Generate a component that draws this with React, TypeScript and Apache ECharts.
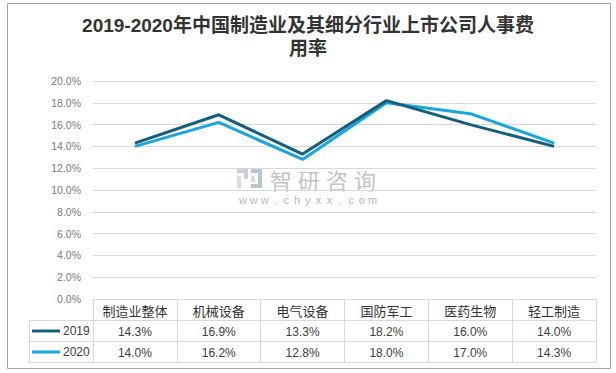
import React, { useEffect, useRef } from "react";
import * as echarts from "echarts";

const categories = ["制造业整体", "机械设备", "电气设备", "国防军工", "医药生物", "轻工制造"];
const seriesNames = ["2019", "2020"];
const values2019 = [14.3, 16.9, 13.3, 18.2, 16.0, 14.0];
const values2020 = [14.0, 16.2, 12.8, 18.0, 17.0, 14.3];
const titleText = "2019-2020年中国制造业及其细分行业上市公司人事费\n用率";
const watermarkChars = ["智", "研", "咨", "询"];
const watermarkUrl = "www.chyxx.com".split("");

const colors = ["#155F7E", "#17A6DF"];
const gridColor = "#d9d9d9";
const fmt = (v: number) => v.toFixed(1) + "%";

export default function App() {
  const ref = useRef<HTMLDivElement>(null);
  useEffect(() => {
    if (!ref.current) return;
    document.body.style.margin = "0";
    const chart = echarts.init(ref.current, null, { renderer: "svg" });
    const tableText = { fontSize: 12, color: "#404040", fontFamily: "Liberation Sans, Noto Sans CJK SC" };
    const valueAxis = (data: number[], offset: number) => ({
      type: "category",
      data: data.map(fmt),
      position: "bottom",
      offset,
      boundaryGap: true,
      axisLine: { show: false },
      axisTick: { show: false },
      splitLine: { show: false },
      axisLabel: { interval: 0, margin: 6, ...tableText },
    });
    const graphics: any[] = [
      {
        type: "rect",
        shape: { x: 7.5, y: 3.5, width: 603, height: 365 },
        style: { fill: "none", stroke: "#a6a6a6", lineWidth: 1 },
        silent: true,
      },
      ...[320.5, 341.5, 362.5].map((y) => ({
        type: "line",
        shape: { x1: 29, y1: y, x2: 596.5, y2: y },
        style: { stroke: gridColor, lineWidth: 1 },
        silent: true,
      })),
      {
        type: "line",
        shape: { x1: 29.5, y1: 320, x2: 29.5, y2: 363 },
        style: { stroke: gridColor, lineWidth: 1 },
        silent: true,
      },
      // watermark logo
      {
        type: "group",
        silent: true,
        children: [
          { type: "rect", shape: { x: 237, y: 169, width: 11, height: 4 }, style: { fill: "#c7d0dc" } },
          { type: "rect", shape: { x: 244, y: 169, width: 4, height: 10 }, style: { fill: "#c7d0dc" } },
          { type: "rect", shape: { x: 237, y: 176, width: 4, height: 12 }, style: { fill: "#d6dde6" } },
          { type: "rect", shape: { x: 251, y: 169, width: 11, height: 4 }, style: { fill: "#b9c6d6" } },
          { type: "rect", shape: { x: 258, y: 169, width: 4, height: 19 }, style: { fill: "#b9c6d6" } },
          { type: "rect", shape: { x: 251, y: 184, width: 11, height: 4 }, style: { fill: "#b9c6d6" } },
          { type: "rect", shape: { x: 251, y: 176, width: 4, height: 6 }, style: { fill: "#d6dde6" } },
        ],
      },
      ...watermarkChars.map((c, i) => ({
        type: "text",
        silent: true,
        x: 281 + i * 28,
        y: 179,
        style: {
          text: c,
          fontSize: 22,
          fill: "#c4c4c4",
          fontFamily: "Noto Sans CJK SC",
          align: "center",
          verticalAlign: "middle",
        },
      })),
      ...watermarkUrl.map((c, i) => ({
        type: "text",
        silent: true,
        x: 243 + i * 10.8,
        y: 200,
        style: {
          text: c,
          fontSize: 11,
          fill: "#b8b8b8",
          fontFamily: "Liberation Sans",
          align: "center",
          verticalAlign: "middle",
        },
      })),
      {
        type: "text",
        silent: true,
        x: 308,
        y: 36.5,
        style: {
          text: titleText,
          fontSize: 19,
          lineHeight: 23,
          fontWeight: "bold",
          fill: "#333333",
          fontFamily: "Liberation Sans, Noto Sans CJK SC",
          align: "center",
          verticalAlign: "middle",
        },
      },
    ];

    chart.setOption({
      animation: false,
      grid: { left: 93, right: 20, top: 81, bottom: 74 },
      legend: seriesNames.map((n, i) => ({
        data: [n],
        left: 32,
        top: 325 + i * 21,
        icon: "rect",
        itemWidth: 28,
        itemHeight: 3,
        padding: 0,
        textStyle: { ...tableText, padding: [0, 0, 0, -2] },
      })),
      xAxis: [
        {
          type: "category",
          data: categories,
          position: "bottom",
          boundaryGap: true,
          axisLine: { show: true, lineStyle: { color: gridColor, width: 1 } },
          axisTick: { show: true, length: 63, lineStyle: { color: gridColor } },
          splitLine: { show: false },
          axisLabel: {
            interval: 0,
            margin: 5,
            fontSize: 13,
            color: "#333333",
            fontFamily: "Noto Sans CJK SC",
          },
        },
        valueAxis(values2019, 21),
        valueAxis(values2020, 42),
      ],
      yAxis: {
        type: "value",
        min: 0,
        max: 20,
        interval: 2,
        axisLine: { show: false },
        axisTick: { show: false },
        axisLabel: {
          formatter: (v: number) => fmt(v),
          fontSize: 10.5,
          margin: 12,
          color: "#7a7a7a",
          fontFamily: "Liberation Sans",
        },
        splitLine: { lineStyle: { color: gridColor, width: 1 } },
      },
      series: [values2019, values2020].map((d, i) => ({
        name: seriesNames[i],
        type: "line",
        xAxisIndex: 0,
        data: d,
        showSymbol: false,
        symbol: "none",
        color: colors[i],
        lineStyle: { width: 3, color: colors[i] },
        z: 3 - i,
      })),
      graphic: graphics,
    });
    return () => chart.dispose();
  }, []);
  return <div ref={ref} style={{ width: 616, height: 373 }} />;
}
